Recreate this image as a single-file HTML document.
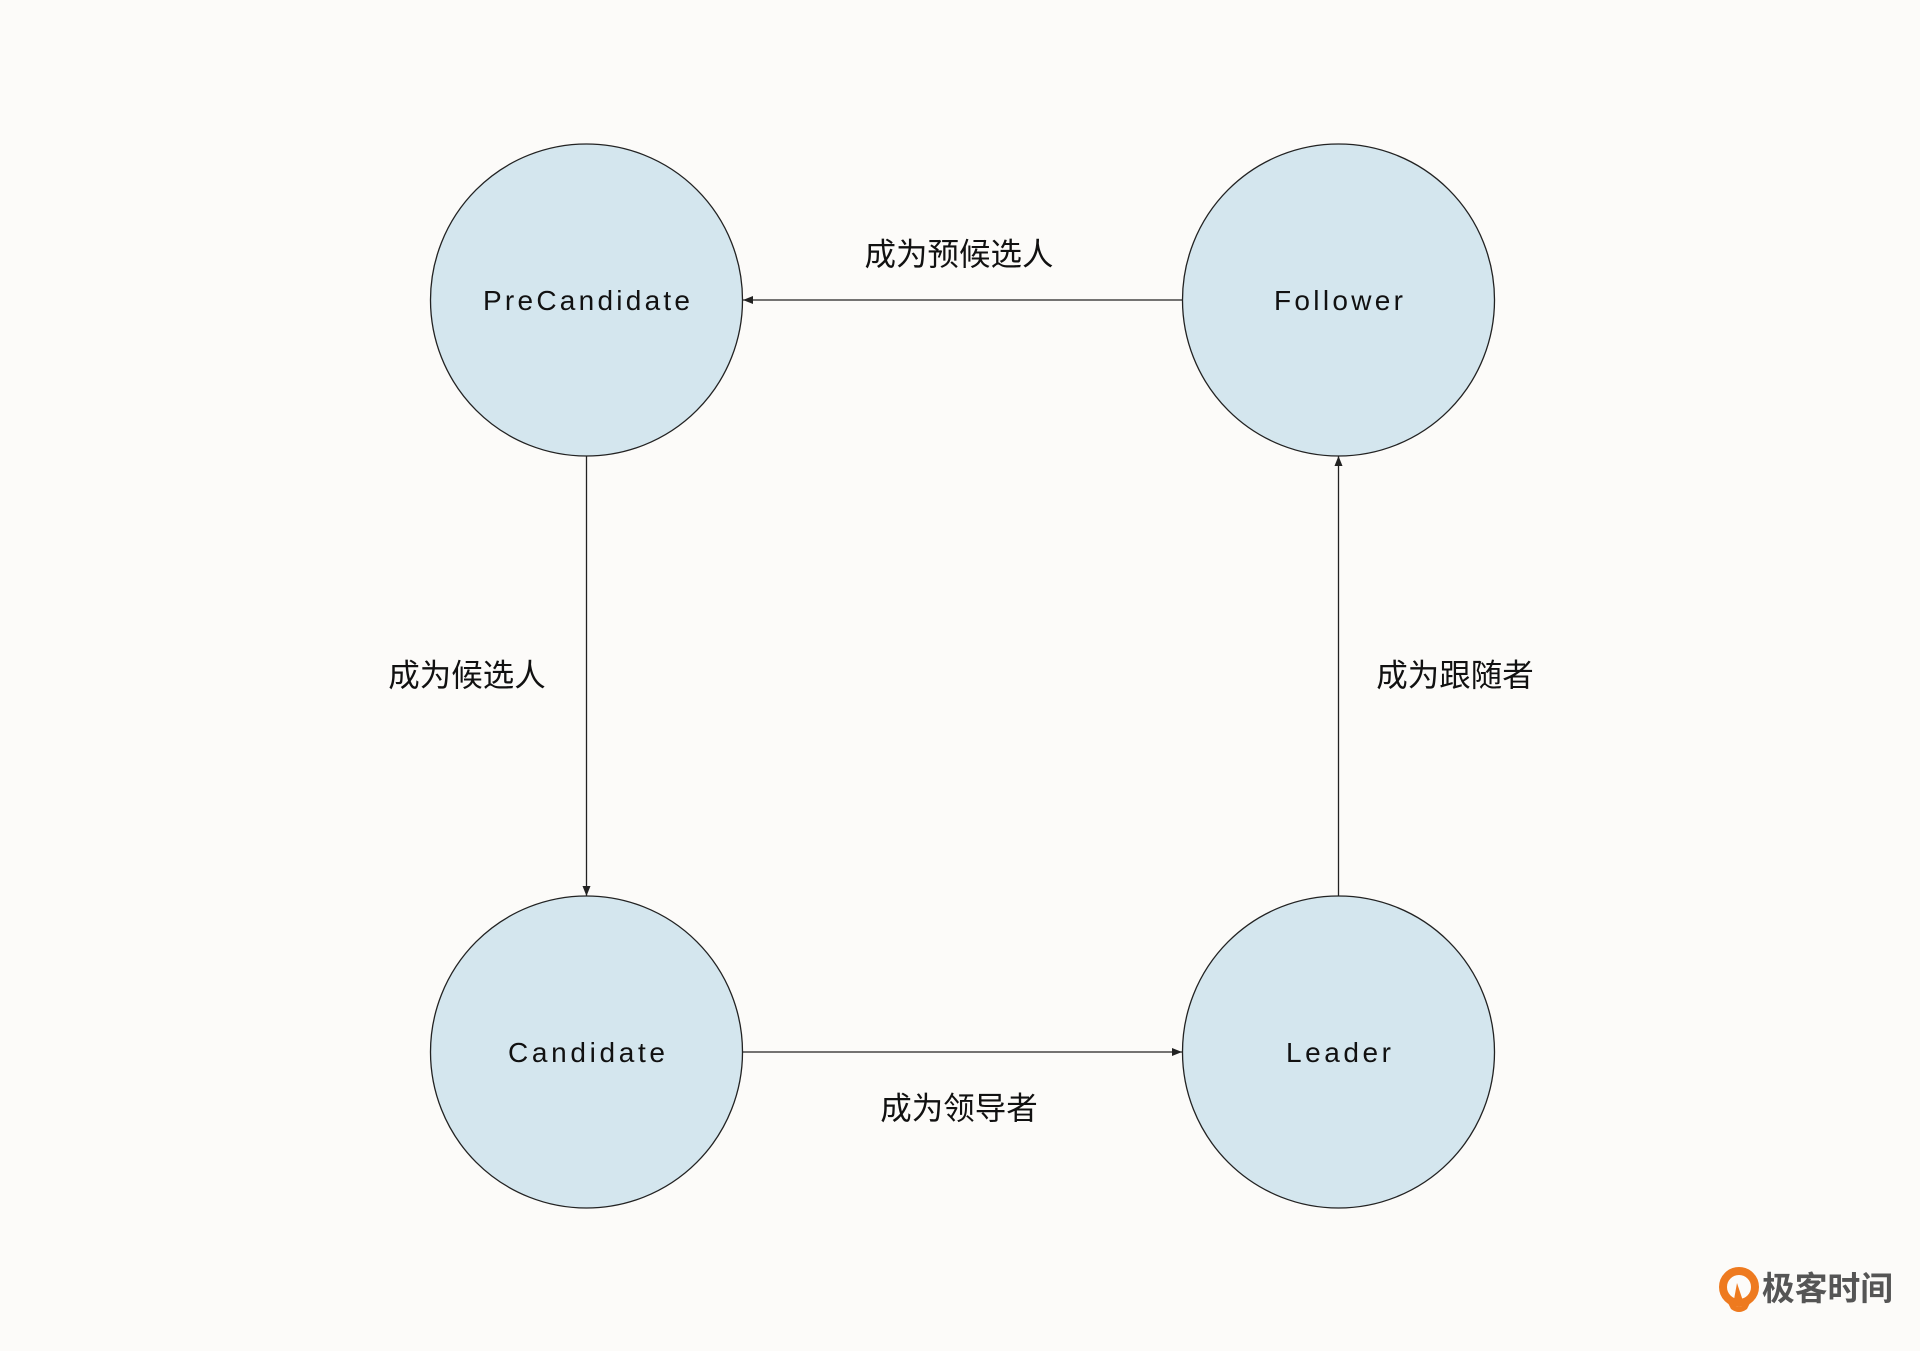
<!DOCTYPE html>
<html><head><meta charset="utf-8"><style>
html,body{margin:0;padding:0;background:#fcfbf9;}
svg{display:block;}
</style></head><body>
<svg width="1920" height="1351" viewBox="0 0 1920 1351" xmlns="http://www.w3.org/2000/svg">
<rect width="1920" height="1351" fill="#fcfbf9"/>
<defs><marker id="a" markerWidth="10" markerHeight="8" refX="10" refY="4" orient="auto" markerUnits="userSpaceOnUse"><path d="M0,0 L10,4 L0,8 Z" fill="#222"/></marker></defs>
<g stroke="#222" stroke-width="1.3" fill="none">
<line x1="1182" y1="300" x2="743" y2="300" marker-end="url(#a)"/>
<line x1="586.5" y1="456" x2="586.5" y2="896" marker-end="url(#a)"/>
<line x1="743" y1="1052" x2="1182" y2="1052" marker-end="url(#a)"/>
<line x1="1338.5" y1="896" x2="1338.5" y2="456" marker-end="url(#a)"/>
</g>
<g fill="#d4e6ee" stroke="#222" stroke-width="1.3">
<circle cx="586.5" cy="300" r="156"/>
<circle cx="1338.5" cy="300" r="156"/>
<circle cx="586.5" cy="1052" r="156"/>
<circle cx="1338.5" cy="1052" r="156"/>
</g>
<g font-family="Liberation Sans, sans-serif" font-size="28" fill="#111" text-anchor="middle">
<text x="586.5" y="310" textLength="207" lengthAdjust="spacing">PreCandidate</text>
<text x="1338.5" y="310" textLength="129" lengthAdjust="spacing">Follower</text>
<text x="586.5" y="1062" textLength="157" lengthAdjust="spacing">Candidate</text>
<text x="1338.5" y="1062" textLength="105" lengthAdjust="spacing">Leader</text>
</g>
<g font-family="Liberation Sans, Noto Sans CJK SC, sans-serif" font-size="31.5" fill="#111" text-anchor="middle">
<text x="959" y="265">成为预候选人</text>
<text x="467" y="686">成为候选人</text>
<text x="1455" y="686">成为跟随者</text>
<text x="959" y="1119">成为领导者</text>
</g>
<g transform="translate(1739,1287)">
<circle cx="0" cy="0" r="16" fill="none" stroke="#ee7a1f" stroke-width="8"/>
<path d="M-2,-4 L4,14 L-6,18 Z" fill="#ee7a1f"/>
<path d="M-12,14 Q0,26 12,14 L8,22 Q0,28 -8,22 Z" fill="#ee7a1f"/>
</g>
<text x="1762" y="1300" font-family="Liberation Sans, Noto Sans CJK SC, sans-serif" font-size="33" font-weight="bold" fill="#555" textLength="131" lengthAdjust="spacingAndGlyphs">极客时间</text>
</svg>
</body></html>
